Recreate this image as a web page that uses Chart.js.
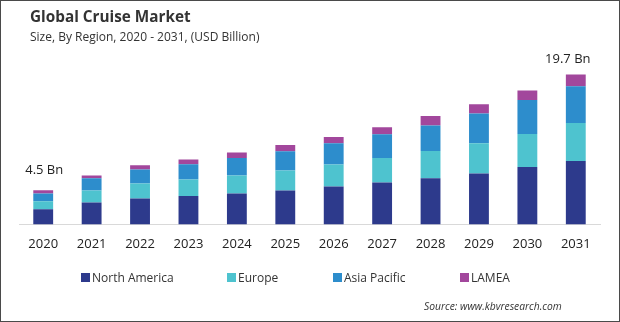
<!DOCTYPE html>
<html>
<head>
<meta charset="utf-8">
<script src="https://cdn.jsdelivr.net/npm/chart.js@4/dist/chart.umd.min.js"></script>
<style>
  html, body { margin: 0; padding: 0; background: #fff; }
  #wrap { position: relative; width: 620px; height: 322px; overflow: hidden; font-family: "Open Sans", "DejaVu Sans", sans-serif; }
  #wrap canvas { position: absolute; left: 0; top: 0; }
  #frame { position: absolute; left: 0; top: 0; width: 620px; height: 322px; box-sizing: border-box; border: 1px solid #4a4a4a; pointer-events: none; }
  .title { position: absolute; left: 30px; top: 6px; font-size: 15.3px; font-weight: 700; color: #333; white-space: nowrap; }
  .subtitle { position: absolute; left: 30px; top: 28px; font-size: 12px; color: #333; white-space: nowrap; }
  .source { position: absolute; left: 424px; top: 299px; font-size: 10.3px; font-style: italic; color: #333; white-space: nowrap; }
  #legend { position: absolute; top: 269px; left: 0; height: 16px; }
  .item { position: absolute; top: 0; display: flex; align-items: center; font-size: 12px; color: #333; white-space: nowrap; }
  .swatch { width: 9px; height: 9px; margin-right: 2px; }
</style>
</head>
<body>
<div id="wrap">
  <canvas id="c" width="620" height="322"></canvas>
  <div class="title">Global Cruise Market</div>
  <div class="subtitle">Size, By Region, 2020 - 2031, (USD Billion)</div>
  <div id="legend"></div>
  <div class="source">Source: www.kbvresearch.com</div>
  <div id="frame"></div>
</div>
<script>
// Market size by region, USD billion
const years = ['2020','2021','2022','2023','2024','2025','2026','2027','2028','2029','2030','2031'];
const northAmerica = [2.00, 2.89, 3.42, 3.72, 4.07, 4.47, 4.99, 5.52, 6.08, 6.70, 7.53, 8.32];
const europe       = [1.05, 1.58, 1.97, 2.19, 2.37, 2.63, 2.89, 3.19, 3.55, 3.98, 4.34, 4.99];
const asiaPacific  = [1.02, 1.58, 1.84, 2.01, 2.27, 2.50, 2.80, 3.15, 3.38, 3.90, 4.47, 4.86];
const lamea        = [0.43, 0.39, 0.53, 0.62, 0.75, 0.83, 0.79, 0.92, 1.22, 1.22, 1.27, 1.53];
const seriesNames  = ['North America', 'Europe', 'Asia Pacific', 'LAMEA'];
const seriesColors = ['#2d3a8c', '#4ec3cf', '#2d8dcc', '#a2479c'];
// years whose bar carries a total label
const labelledYears = ['2020', '2031'];

const seriesValues = [northAmerica, europe, asiaPacific, lamea];

const totalLabels = {
  id: 'totalLabels',
  afterDatasetsDraw(chart) {
    const { ctx, scales } = chart;
    const last = years.length - 1;
    ctx.save();
    ctx.font = '13px "Open Sans", sans-serif';
    ctx.fillStyle = '#222';
    ctx.textAlign = 'center';
    ctx.textBaseline = 'bottom';
    labelledYears.forEach(yr => {
      const i = years.indexOf(yr);
      const total = seriesValues.reduce((s, arr) => s + arr[i], 0);
      // the last label sits a little left so it stays inside the frame
      const x = scales.x.getPixelForValue(i) + (i === last ? -8 : 1);
      const y = scales.y.getPixelForValue(total) - (i === last ? 9 : 13);
      ctx.fillText(total.toFixed(1) + ' Bn', x, y);
    });
    ctx.restore();
  }
};

new Chart(document.getElementById('c'), {
  type: 'bar',
  data: {
    labels: years,
    datasets: seriesNames.map((name, k) => ({
      label: name,
      data: seriesValues[k],
      backgroundColor: seriesColors[k],
      borderWidth: 0,
      barPercentage: 0.41,
      categoryPercentage: 1
    }))
  },
  options: {
    responsive: false,
    animation: false,
    devicePixelRatio: 1,
    layout: { padding: { left: 19, right: 20, top: 57, bottom: 58 } },
    plugins: { legend: { display: false }, tooltip: { enabled: false } },
    scales: {
      x: {
        stacked: true,
        grid: { display: false, drawTicks: false },
        border: { display: true, color: '#d9d9d9', width: 1 },
        ticks: { color: '#222', font: { size: 13, family: '"Open Sans", sans-serif' }, padding: 12 }
      },
      y: {
        stacked: true,
        display: false,
        min: 0,
        max: 22
      }
    }
  },
  plugins: [totalLabels]
});

// legend
const legendX = [81, 227, 333, 460];
const legend = document.getElementById('legend');
seriesNames.forEach((name, k) => {
  const item = document.createElement('div');
  item.className = 'item';
  item.style.left = legendX[k] + 'px';
  const sw = document.createElement('span');
  sw.className = 'swatch';
  sw.style.background = seriesColors[k];
  const tx = document.createElement('span');
  tx.textContent = name;
  item.appendChild(sw);
  item.appendChild(tx);
  legend.appendChild(item);
});
</script>
</body>
</html>
